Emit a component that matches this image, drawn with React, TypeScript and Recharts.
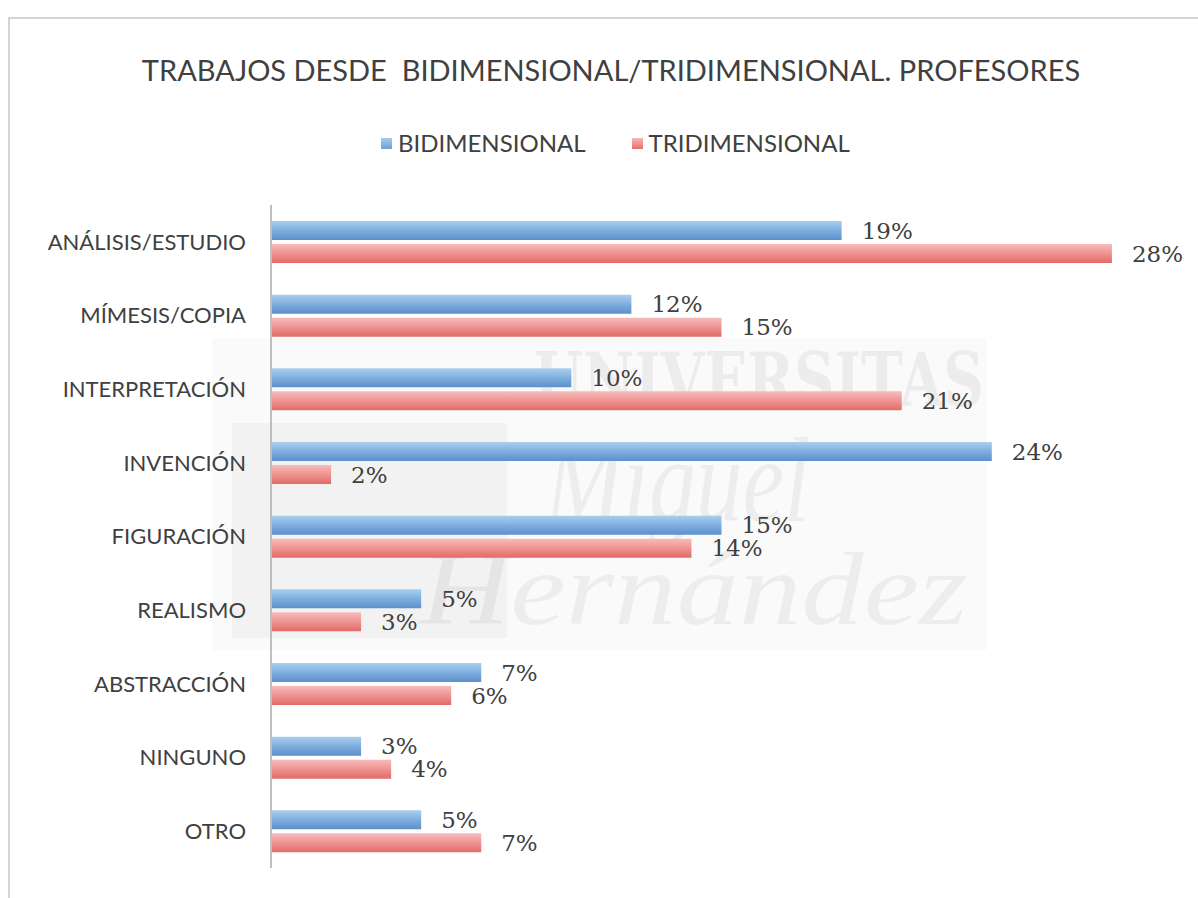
import React from 'react';
import { BarChart, Bar, XAxis, YAxis, Legend, LabelList } from 'recharts';

const categories = [
  'ANÁLISIS/ESTUDIO',
  'MÍMESIS/COPIA',
  'INTERPRETACIÓN',
  'INVENCIÓN',
  'FIGURACIÓN',
  'REALISMO',
  'ABSTRACCIÓN',
  'NINGUNO',
  'OTRO',
];
const bidimensional = [19, 12, 10, 24, 15, 5, 7, 3, 5];
const tridimensional = [28, 15, 21, 2, 14, 3, 6, 4, 7];

const data = categories.map((name, i) => ({
  name,
  bidimensional: bidimensional[i],
  tridimensional: tridimensional[i],
}));

const TEXT = '#404040';
const SANS = 'Lato, "Open Sans", sans-serif';
const SERIF = '"DejaVu Serif", serif';

const renderLegend = () => (
  <div style={{ position: 'absolute', left: 381, top: 0, display: 'flex', alignItems: 'center', fontFamily: SANS, fontSize: 24, color: TEXT, whiteSpace: 'nowrap', lineHeight: '28px' }}>
    <span style={{ display: 'flex', alignItems: 'center', marginRight: 46 }}>
      <span style={{ width: 11, height: 11, background: 'linear-gradient(#a9cbea, #6f9fd6)', marginRight: 6 }} />
      BIDIMENSIONAL
    </span>
    <span style={{ display: 'flex', alignItems: 'center' }}>
      <span style={{ width: 11, height: 11, background: 'linear-gradient(#f6b7b6, #e4706c)', marginRight: 6 }} />
      TRIDIMENSIONAL
    </span>
  </div>
);

// faint university watermark lying over the plot
const Watermark = () => (
  <div style={{ position: 'absolute', left: 212, top: 338, width: 775, height: 312, background: 'rgba(0,0,0,0.02)', pointerEvents: 'none' }}>
    <div style={{ position: 'absolute', left: 20, top: 85, width: 275, height: 215, background: 'rgba(0,0,0,0.03)' }} />
    <div style={{ position: 'absolute', left: 322, top: 2, fontFamily: '"DejaVu Serif", serif', fontWeight: 'bold', fontSize: 74, lineHeight: '80px', color: 'rgba(0,0,0,0.055)', transform: 'scaleX(0.76)', transformOrigin: 'left top' }}>
      UNIVERSITAS
    </div>
    <div style={{ position: 'absolute', left: 333, top: 78, fontFamily: '"Liberation Serif", serif', fontStyle: 'italic', fontSize: 120, lineHeight: '130px', color: 'rgba(0,0,0,0.05)', transform: 'scaleX(0.78)', transformOrigin: 'left top' }}>
      Miguel
    </div>
    <div style={{ position: 'absolute', left: 208, top: 196, fontFamily: '"Liberation Serif", serif', fontStyle: 'italic', fontSize: 104, lineHeight: '110px', color: 'rgba(0,0,0,0.05)', transform: 'scaleX(1.2)', transformOrigin: 'left top' }}>
      Hernández
    </div>
  </div>
);

const App: React.FC = () => {
  return (
    <div style={{ position: 'absolute', left: 0, top: 0, width: 1198, height: 898, overflow: 'hidden', background: '#fff' }}>
      <div style={{ position: 'absolute', left: 8, top: 17, width: 1300, height: 1000, borderLeft: '2px solid #d4d4d4', borderTop: '2px solid #d4d4d4' }} />
      <div style={{ position: 'absolute', left: 0, top: 52, width: 1222, textAlign: 'center', fontFamily: SANS, fontSize: 29, color: TEXT, whiteSpace: 'pre' }}>
        {'TRABAJOS DESDE  BIDIMENSIONAL/TRIDIMENSIONAL. PROFESORES'}
      </div>
      <Watermark />
      <div style={{ position: 'absolute', left: 0, top: 0 }}>
        <BarChart
          width={1198}
          height={898}
          data={data}
          layout="vertical"
          margin={{ top: 205, right: 26, bottom: 30, left: 0 }}
          barSize={19}
          barGap={4}
        >
          <defs>
            <linearGradient id="gBlue" x1="0" y1="0" x2="0" y2="1">
              <stop offset="0%" stopColor="#aacfec" />
              <stop offset="50%" stopColor="#7eaee0" />
              <stop offset="100%" stopColor="#5d8fca" />
            </linearGradient>
            <linearGradient id="gRed" x1="0" y1="0" x2="0" y2="1">
              <stop offset="0%" stopColor="#f7bcbb" />
              <stop offset="50%" stopColor="#ef9391" />
              <stop offset="100%" stopColor="#e06b67" />
            </linearGradient>
          </defs>
          <XAxis type="number" domain={[0, 30]} hide />
          <YAxis
            type="category"
            dataKey="name"
            width={271}
            axisLine={{ stroke: '#bfbfbf', strokeWidth: 2 }}
            tickLine={false}
            tickSize={0}
            tickMargin={25}
            tick={{ fill: TEXT, fontSize: 22, fontFamily: SANS }}
          />
          <Legend
            verticalAlign="top"
            content={renderLegend}
            wrapperStyle={{ position: 'absolute', top: 129, left: 0, width: 1198, height: 0, overflow: 'visible' }}
          />
          <Bar dataKey="bidimensional" name="BIDIMENSIONAL" fill="url(#gBlue)" isAnimationActive={false}>
            <LabelList
              dataKey="bidimensional"
              position="right"
              offset={20}
              formatter={(v: any) => `${v}%`}
              style={{ fill: TEXT, fontSize: 23, fontFamily: SERIF }}
            />
          </Bar>
          <Bar dataKey="tridimensional" name="TRIDIMENSIONAL" fill="url(#gRed)" isAnimationActive={false}>
            <LabelList
              dataKey="tridimensional"
              position="right"
              offset={20}
              formatter={(v: any) => `${v}%`}
              style={{ fill: TEXT, fontSize: 23, fontFamily: SERIF }}
            />
          </Bar>
        </BarChart>
      </div>
    </div>
  );
};

export default App;
